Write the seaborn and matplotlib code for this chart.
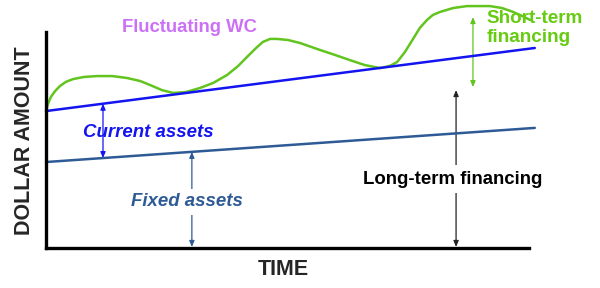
import numpy as np
import pandas as pd
import matplotlib
matplotlib.use("Agg")
import matplotlib.pyplot as plt
import seaborn as sns

sns.set_style("white")
plt.rcParams['font.family'] = ['Liberation Sans', 'DejaVu Sans']

# ---- data (time 0..10, dollar amount 0..10) ----
line_time = [0.0, 10.12]
current_total = [6.34, 9.26]      # fixed + permanent current assets
fixed_assets = [3.98, 5.56]

wc_time = [0.0, 0.04, 0.10, 0.19, 0.29, 0.41, 0.56, 0.79, 1.06, 1.37, 1.68, 1.95,
           2.15, 2.40, 2.63, 2.90, 3.19, 3.46, 3.75, 3.98, 4.16, 4.35, 4.49, 4.64,
           4.78, 5.01, 5.26, 5.67, 5.98, 6.29, 6.60, 6.92, 7.12, 7.27, 7.43, 7.60,
           7.74, 7.89, 8.01, 8.16, 8.43, 8.72, 8.99, 9.19, 9.44, 9.67, 9.86, 10.02]
wc_total = [6.34, 6.67, 6.99, 7.27, 7.50, 7.69, 7.82, 7.92, 7.96, 7.96, 7.87, 7.73,
            7.55, 7.31, 7.18, 7.22, 7.41, 7.64, 8.01, 8.43, 8.84, 9.26, 9.54, 9.68,
            9.68, 9.63, 9.49, 9.17, 8.94, 8.70, 8.47, 8.33, 8.43, 8.61, 9.07, 9.68,
            10.19, 10.56, 10.79, 10.93, 11.11, 11.20, 11.20, 11.20, 11.11, 10.93, 10.74, 10.56]

labels = {
    "wc": "Fluctuating WC",
    "short": "Short-term\nfinancing",
    "current": "Current assets",
    "fixed": "Fixed assets",
    "long": "Long-term financing",
    "x": "TIME",
    "y": "DOLLAR AMOUNT",
}

# arrow positions (time) and spans (amount)
arrow_current_t = 1.18
arrow_fixed_t = 3.02
arrow_long_t, arrow_long_top = 8.49, 7.31
arrow_short_t, arrow_short_span = 8.84, (10.69, 7.45)

c_green = "#62C41E"
c_green_txt = "#66CC11"
c_violet = "#CC70F5"
c_blue = "#1414F0"
c_steel = "#2E5B96"

fig = plt.figure(figsize=(6, 2.88), dpi=100)
ax = fig.add_axes([46 / 600, 1 - 248 / 288, 483 / 600, 216 / 288])
ax.set_xlim(0, 10)
ax.set_ylim(0, 10)

df_lines = pd.DataFrame({
    "t": line_time * 2,
    "amount": current_total + fixed_assets,
    "series": ["current"] * 2 + ["fixed"] * 2,
})
df_wc = pd.DataFrame({"t": wc_time, "amount": wc_total})

sns.lineplot(data=df_wc, x="t", y="amount", color=c_green, lw=1.8, ax=ax,
             sort=False)
sns.lineplot(data=df_lines, x="t", y="amount", hue="series",
             palette={"current": c_blue, "fixed": c_steel}, lw=1.8, ax=ax,
             legend=False)
for ln in ax.get_lines():
    ln.set_clip_on(False)
    ln.set_solid_joinstyle("round")

def y_at(t, xs, ys):
    return float(np.interp(t, xs, ys))

def arrow(t, y0, y1, color, style="<|-|>"):
    ax.annotate("", xy=(t, y1), xytext=(t, y0),
                arrowprops=dict(arrowstyle=style + ",head_length=0.35,head_width=0.15",
                                color=color, lw=0.9, shrinkA=0, shrinkB=0),
                annotation_clip=False, zorder=1)

arrow(arrow_current_t, y_at(arrow_current_t, line_time, current_total),
      y_at(arrow_current_t, line_time, fixed_assets), c_blue)
arrow(arrow_fixed_t, y_at(arrow_fixed_t, line_time, fixed_assets), 0.05, c_steel)
arrow(arrow_long_t, arrow_long_top, 0.05, "#222222")
arrow(arrow_short_t, arrow_short_span[0], arrow_short_span[1], c_green)

fs = 13.4
ax.text(2.98, 10.19, labels["wc"], color=c_violet, fontsize=13.3, fontweight="bold",
        ha="center", va="center", clip_on=False)
ax.text(9.13, 10.19, labels["short"], color=c_green_txt, fontsize=13.6, fontweight="bold",
        ha="left", va="center", linespacing=1.15, clip_on=False)
ax.text(2.11, 5.35, labels["current"], color=c_blue, fontsize=fs, fontweight="bold",
        fontstyle="italic", ha="center", va="center")
ax.text(2.92, 2.13, labels["fixed"], color=c_steel, fontsize=fs, fontweight="bold",
        fontstyle="italic", ha="center", va="center", zorder=3,
        bbox=dict(facecolor="white", edgecolor="none", pad=3))
ax.text(8.41, 3.19, labels["long"], color="black", fontsize=fs, fontweight="bold",
        ha="center", va="center", zorder=3,
        bbox=dict(facecolor="white", edgecolor="none", pad=4))

ax.set_xlabel(labels["x"], fontsize=15.5, fontweight="bold")
ax.set_ylabel(labels["y"], fontsize=15.5, fontweight="bold")
ax.xaxis.set_label_coords((283 - 46) / 483, -0.05)
ax.yaxis.set_label_coords((35 - 46) / 483, 0.495)

ax.set_xticks([])
ax.set_yticks([])
for s in ["top", "right"]:
    ax.spines[s].set_visible(False)
for s in ["left", "bottom"]:
    ax.spines[s].set_color("black")
    ax.spines[s].set_linewidth(2.4)

fig.savefig("out.png", dpi=100)
